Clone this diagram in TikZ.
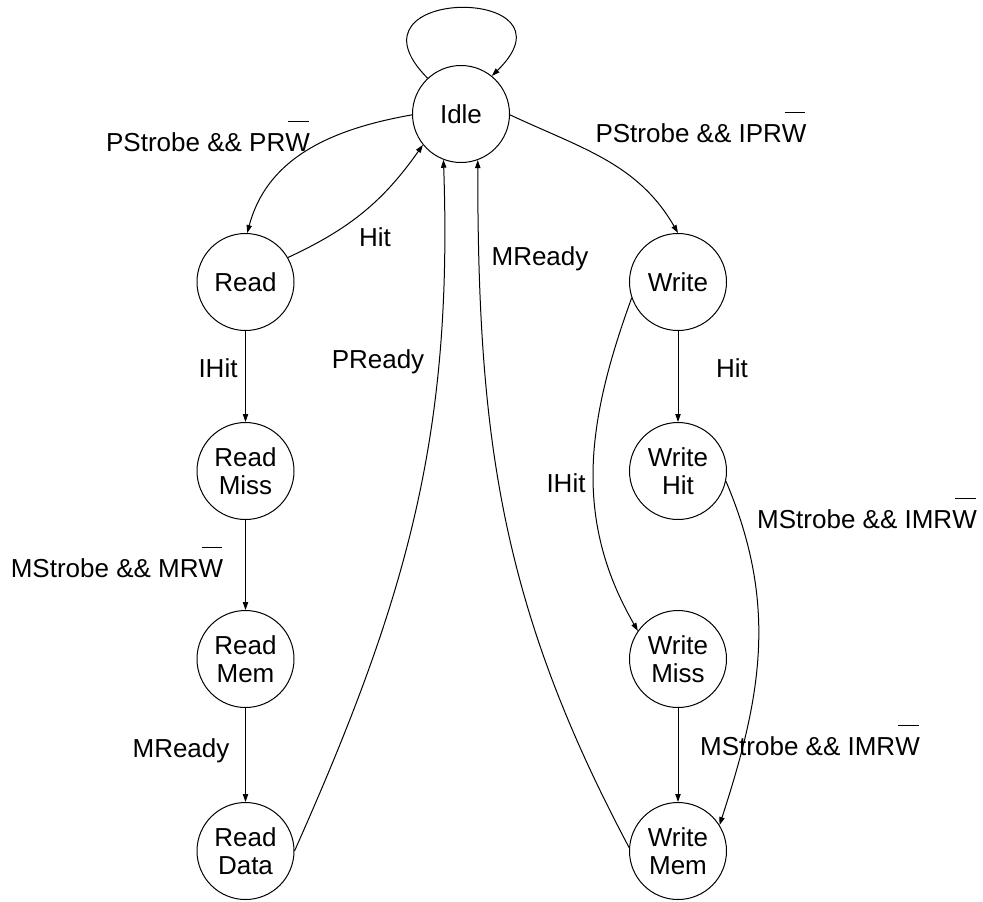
\documentclass[tikz,border=0pt]{standalone}
\usepackage{fontspec}
\setmainfont{Liberation Sans}
\usetikzlibrary{arrows.meta}
% W with a raised bar (active-low signal)
\newcommand{\barW}{\makebox[0pt][l]{\hspace{0.12em}\rule[1.1em]{0.78em}{0.75pt}}W}

\begin{document}
\begin{tikzpicture}[x=0.75pt,y=-0.75pt,
  font=\fontsize{19.5}{21}\selectfont,
  state/.style={circle,draw,line width=0.75pt,minimum size=72.75pt,inner sep=0pt,align=center},
  trans/.style={draw,line width=0.75pt,-{Triangle[length=6pt,width=4pt]}},
  lbl/.style={anchor=base,inner sep=0pt}]
\path[fill=white,use as bounding box] (0,0) rectangle (983,901);

% states
\node[state] (idle)  at (461,114)   {Idle};
\node[state] (read)  at (245.5,282) {Read};
\node[state] (rmiss) at (245.5,471) {Read\\Miss};
\node[state] (rmem)  at (245.5,659) {Read\\Mem};
\node[state] (rdata) at (245.5,851) {Read\\Data};
\node[state] (write) at (678,282)   {Write};
\node[state] (whit)  at (678,471)   {Write\\Hit};
\node[state] (wmiss) at (678,659)   {Write\\Miss};
\node[state] (wmem)  at (678,851)   {Write\\Mem};

% transitions
\draw[trans] (idle.133) .. controls (335,-15) and (585,-15) .. (idle.51);
\draw[trans] (idle.181) to[out=190,in=75] (read.88);
\draw[trans] (read.30) to[bend right=15] (idle.219);
\draw[trans] (idle.-1) to[out=-25,in=120] (write.90);
\draw[trans] (read) -- (rmiss);
\draw[trans] (rmiss) -- (rmem);
\draw[trans] (rmem) -- (rdata);
\draw[trans] (rdata.0) to[out=66,in=-88] (idle.249);
\draw[trans] (wmem.176) to[out=118,in=-90] (idle.-70);
\draw[trans] (write) -- (whit);
\draw[trans] (wmiss) -- (wmem);
\draw[trans] (write.199) to[out=250,in=120] (wmiss.145);
\draw[trans] (whit.-12) to[out=-67,in=72] (wmem.32);

% transition conditions
\node[lbl] (cPRd)   at (208,151) {PStrobe \&\& PR\barW};
\node[lbl] (cHitR)  at (375,246) {Hit};
\node[lbl] (cPWr)   at (701,142) {PStrobe \&\& IPR\barW};
\node[lbl] (cMissR) at (218,377) {IHit};
\node[lbl] (cMRd)   at (117,577) {MStrobe \&\& MR\barW};
\node[lbl] (cMRdyR) at (181,757) {MReady};
\node[lbl] (cPRdy)  at (378,368) {PReady};
\node[lbl] (cMRdyW) at (540,265) {MReady};
\node[lbl] (cHitW)  at (732,377) {Hit};
\node[lbl] (cMissW) at (566,492) {IHit};
\node[lbl] (cMWrH)  at (867,528) {MStrobe \&\& IMR\barW};
\node[lbl] (cMWrM)  at (810,755) {MStrobe \&\& IMR\barW};
\end{tikzpicture}
\end{document}
